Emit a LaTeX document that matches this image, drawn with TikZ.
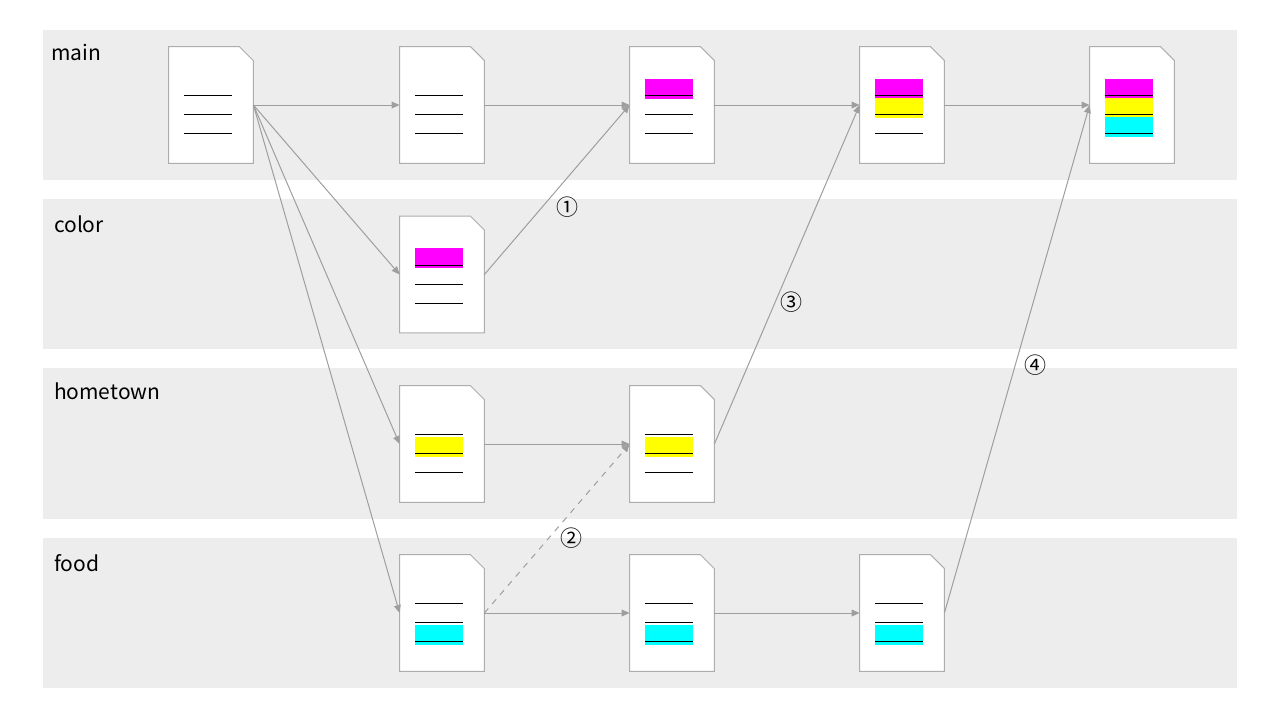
\documentclass[tikz,border=0pt]{standalone}
\usepackage{fontspec}
\setmainfont{Noto Sans CJK JP}
\usetikzlibrary{arrows.meta}
\colorlet{collane}{black!7}
\colorlet{colpaper}{black!32}
\colorlet{collink}{black!38}
\definecolor{colmag}{RGB}{255,0,255}
\definecolor{colyel}{RGB}{255,255,0}
\definecolor{colcya}{RGB}{0,255,255}
\tikzset{
  >=Latex,
  lane/.style={fill=collane, draw=none},
  lane label/.style={anchor=west, font=\fontsize{10.5pt}{12pt}\selectfont},
  paper/.style={rectangle, minimum width=42pt, minimum height=58pt, inner sep=0},
  link/.style={-{Triangle[length=4pt, width=3.4pt]}, collink, line width=0.5pt},
  step num/.style={font=\fontsize{11pt}{12pt}\selectfont},
}
% a document sheet with a cut corner
\newcommand{\sheet}[3]{%
  \node[paper] (#1) at (#2,#3) {};
  \filldraw[fill=white, draw=colpaper, line width=0.5pt]
    (#1.south west) -- (#1.north west) -- ([xshift=-7pt]#1.north east)
    -- ([yshift=-7pt]#1.north east) -- (#1.south east) -- cycle;
}
% coloured band round text line #2
\newcommand{\band}[3]{%
  \fill[#3] ([xshift=-13.5pt, yshift={-16.5pt-9.5pt*#2}]#1.north) rectangle ++(24pt,10pt);
}
\newcommand{\rules}[1]{%
  \foreach \k in {1,2,3}
    \draw[black, line width=0.6pt] ([xshift=-13.5pt, yshift={-15pt-9.5pt*\k}]#1.north) -- ++(24pt,0);
}

\begin{document}
\begin{tikzpicture}[x=0.5pt, y=-0.5pt]
  \useasboundingbox (0,0) rectangle (1280,720);

  % ---- lanes
  \fill[lane] (43,30)  rectangle (1237,180);
  \fill[lane] (43,199) rectangle (1237,349);
  \fill[lane] (43,368) rectangle (1237,519);
  \fill[lane] (43,538) rectangle (1237,688);
  \node[lane label] (lmain) at (44,52)  {main};
  \node[lane label] (lcol)  at (47,224) {color};
  \node[lane label] (lhome) at (47,391) {hometown};
  \node[lane label] (lfood) at (47,563) {food};

  % ---- sheets
  \sheet{m1}{211}{105}   \rules{m1}
  \sheet{m2}{442}{105}   \rules{m2}
  \sheet{m3}{672}{105}   \band{m3}{1}{colmag} \rules{m3}
  \sheet{m4}{902}{105}   \band{m4}{1}{colmag} \band{m4}{2}{colyel} \rules{m4}
  \sheet{m5}{1132}{105}  \band{m5}{1}{colmag} \band{m5}{2}{colyel} \band{m5}{3}{colcya} \rules{m5}
  \sheet{c1}{442}{274.5} \band{c1}{1}{colmag} \rules{c1}
  \sheet{h1}{442}{444}   \band{h1}{2}{colyel} \rules{h1}
  \sheet{h2}{672}{444}   \band{h2}{2}{colyel} \rules{h2}
  \sheet{f1}{442}{613}   \band{f1}{3}{colcya} \rules{f1}
  \sheet{f2}{672}{613}   \band{f2}{3}{colcya} \rules{f2}
  \sheet{f3}{902}{613}   \band{f3}{3}{colcya} \rules{f3}

  % ---- branching out of main
  \foreach \t in {m2,c1,h1,f1}
    \draw[link] (m1.east) -- (\t.west);

  % ---- work on each branch
  \draw[link] (m2.east) -- (m3.west);
  \draw[link] (m3.east) -- (m4.west);
  \draw[link] (m4.east) -- (m5.west);
  \draw[link] (h1.east) -- (h2.west);
  \draw[link] (f1.east) -- (f2.west);
  \draw[link] (f2.east) -- (f3.west);
  \draw[link, dashed] (f1.east) -- (h2.west);

  % ---- merges into main
  \draw[link] (c1.east) -- (m3.west);
  \draw[link] (h2.east) -- (m4.west);
  \draw[link] (f3.east) -- (m5.west);

  % ---- step numbers
  \node[step num] (n1) at (567,207)  {①};
  \node[step num] (n2) at (571,538)  {②};
  \node[step num] (n3) at (791,302)  {③};
  \node[step num] (n4) at (1035,365) {④};

\end{tikzpicture}
\end{document}
